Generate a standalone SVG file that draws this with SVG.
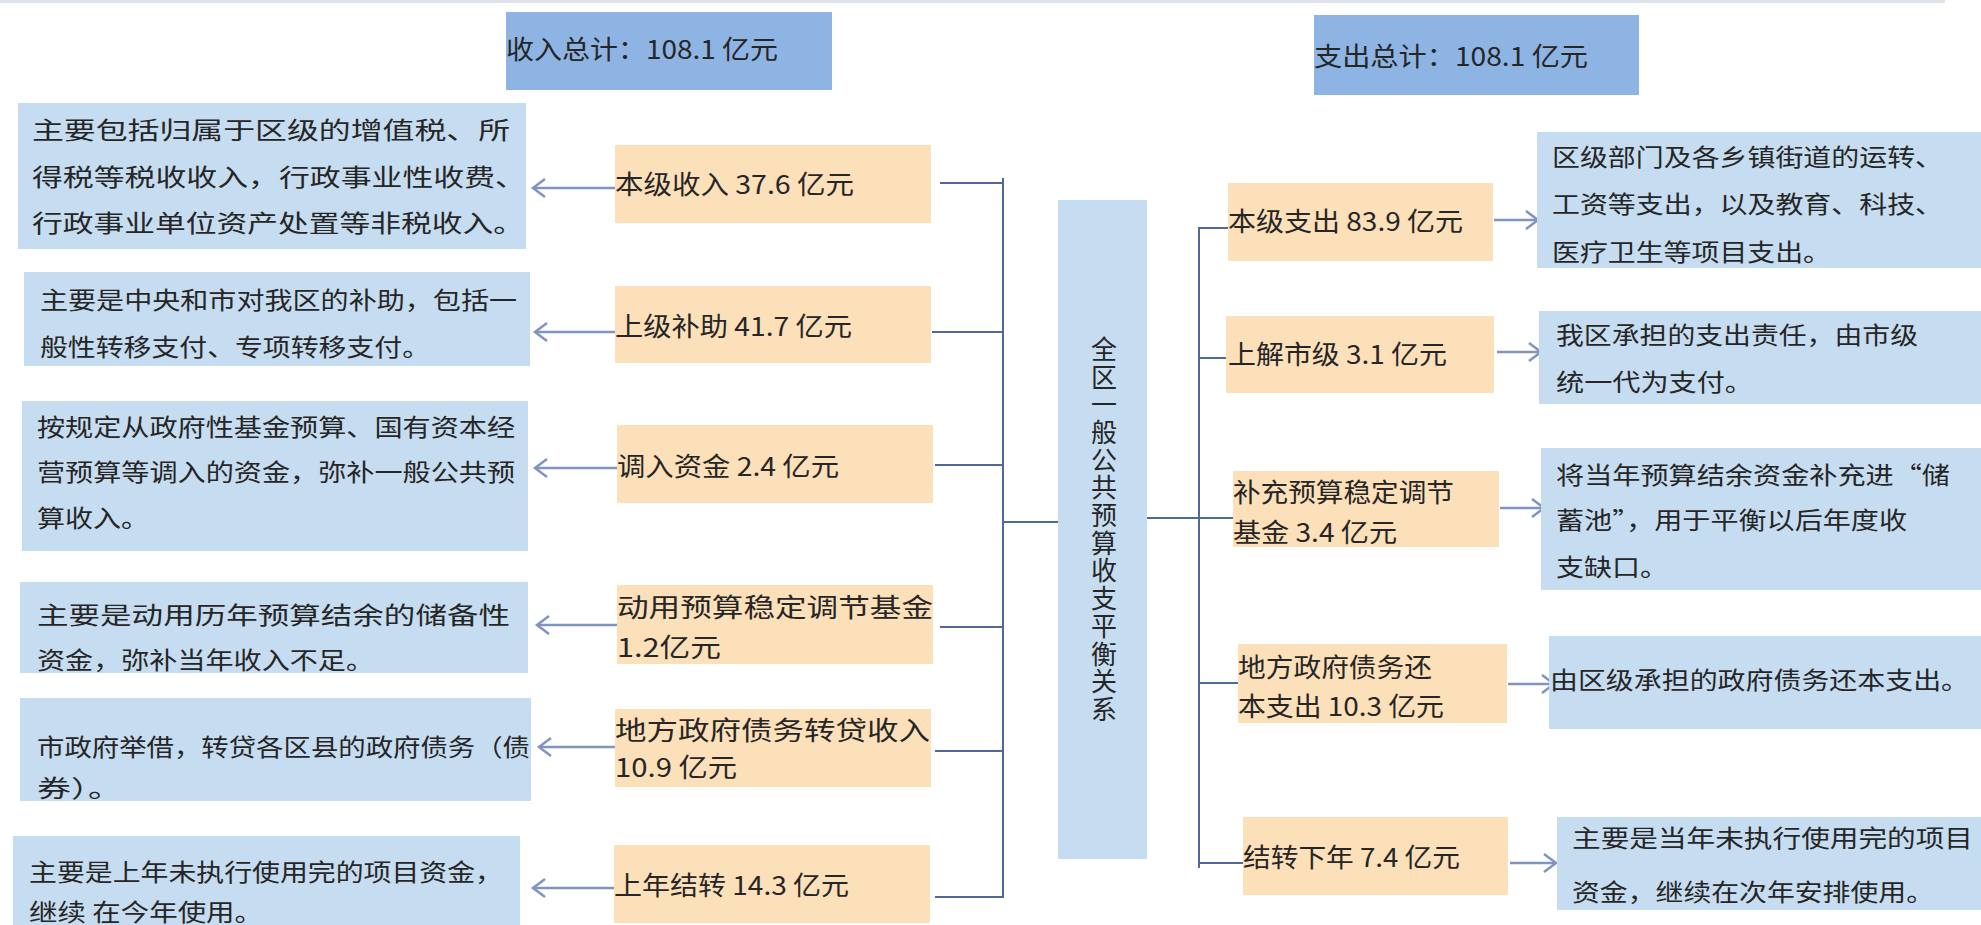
<svg xmlns="http://www.w3.org/2000/svg" width="1981" height="925" viewBox="0 0 1981 925">
<style>
.bg{fill:#ffffff}
.desc{fill:#C6DCF0}
.lab{fill:#FCE0BA}
.tot{fill:#8EB4E3}
.t{font-family:"Noto Sans CJK SC","Noto Sans",sans-serif;fill:#262626}
.d{font-size:24px}
.l{font-size:26px}
.c{font-size:26px;writing-mode:vertical-rl;text-orientation:upright;letter-spacing:1.7px}
.conn{stroke:#53689A;stroke-width:2;fill:none}
.arr{stroke:#8194C0;stroke-width:2.5;fill:none;marker-end:url(#ah)}
</style>
<defs>
<marker id="ah" markerUnits="userSpaceOnUse" markerWidth="20" markerHeight="24" refX="15" refY="10" orient="auto">
<path d="M3,1 L15,10 L3,19" fill="none" stroke="#8194C0" stroke-width="2.5"/>
</marker>
</defs>
<rect class="bg" x="0" y="0" width="1981" height="925"/>
<line x1="0" y1="1.5" x2="1945" y2="1.5" stroke="#DDE2EA" stroke-width="3"/>

<g id="connectors">
<path class="conn" d="M1003,178 V898"/>
<path class="conn" d="M940,183 H1003"/>
<path class="conn" d="M932,332 H1003"/>
<path class="conn" d="M935,465 H1003"/>
<path class="conn" d="M940,627 H1003"/>
<path class="conn" d="M935,751 H1003"/>
<path class="conn" d="M935,897 H1003"/>
<path class="conn" d="M1003,522 H1058"/>
<path class="conn" d="M1199,227 V868"/>
<path class="conn" d="M1199,228 H1228"/>
<path class="conn" d="M1199,358 H1228"/>
<path class="conn" d="M1147,518 H1233"/>
<path class="conn" d="M1199,683 H1238"/>
<path class="conn" d="M1199,863 H1243"/>
<line class="arr" x1="615" y1="188" x2="533" y2="188"/>
<line class="arr" x1="615" y1="332" x2="535" y2="332"/>
<line class="arr" x1="617" y1="468" x2="535" y2="468"/>
<line class="arr" x1="617" y1="625" x2="537" y2="625"/>
<line class="arr" x1="615" y1="747" x2="539" y2="747"/>
<line class="arr" x1="614" y1="888" x2="533" y2="888"/>
<line class="arr" x1="1494" y1="220" x2="1538" y2="220"/>
<line class="arr" x1="1497" y1="352" x2="1541" y2="352"/>
<line class="arr" x1="1500" y1="508" x2="1544" y2="508"/>
<line class="arr" x1="1508" y1="684" x2="1554" y2="684"/>
<line class="arr" x1="1510" y1="863" x2="1556" y2="863"/>
</g>

<g id="total-income">
<rect class="tot" x="506" y="12" width="326" height="78"/>
<text class="t l" x="506" y="59" textLength="272" lengthAdjust="spacingAndGlyphs">收入总计：108.1 亿元</text>
</g>
<g id="total-expense">
<rect class="tot" x="1314" y="15" width="325" height="80"/>
<text class="t l" x="1314" y="66" textLength="274" lengthAdjust="spacingAndGlyphs">支出总计：108.1 亿元</text>
</g>

<g id="center">
<rect class="desc" x="1058" y="200" width="89" height="659"/>
<text class="t c" x="1104" y="336">全区一般公共预算收支平衡关系</text>
</g>

<g id="income-1">
<rect class="lab" x="615" y="145" width="316" height="78"/>
<text class="t l" x="615" y="194" textLength="239" lengthAdjust="spacingAndGlyphs">本级收入 37.6 亿元</text>
</g>
<g id="income-1-desc">
<rect class="desc" x="18" y="103" width="508" height="146"/>
<text class="t d" x="32" y="139" textLength="478" lengthAdjust="spacingAndGlyphs">主要包括归属于区级的增值税、所</text>
<text class="t d" x="32" y="186" textLength="494" lengthAdjust="spacingAndGlyphs">得税等税收收入，行政事业性收费、</text>
<text class="t d" x="32" y="232" textLength="492" lengthAdjust="spacingAndGlyphs">行政事业单位资产处置等非税收入。</text>
</g>

<g id="income-2">
<rect class="lab" x="615" y="286" width="316" height="77"/>
<text class="t l" x="615" y="336" textLength="237" lengthAdjust="spacingAndGlyphs">上级补助 41.7 亿元</text>
</g>
<g id="income-2-desc">
<rect class="desc" x="24" y="272" width="506" height="94"/>
<text class="t d" x="40" y="309" textLength="477" lengthAdjust="spacingAndGlyphs">主要是中央和市对我区的补助，包括一</text>
<text class="t d" x="40" y="356" textLength="390" lengthAdjust="spacingAndGlyphs">般性转移支付、专项转移支付。</text>
</g>

<g id="income-3">
<rect class="lab" x="617" y="425" width="316" height="78"/>
<text class="t l" x="617" y="476" textLength="222" lengthAdjust="spacingAndGlyphs">调入资金 2.4 亿元</text>
</g>
<g id="income-3-desc">
<rect class="desc" x="22" y="401" width="506" height="150"/>
<text class="t d" x="37" y="436" textLength="478" lengthAdjust="spacingAndGlyphs">按规定从政府性基金预算、国有资本经</text>
<text class="t d" x="37" y="481" textLength="478" lengthAdjust="spacingAndGlyphs">营预算等调入的资金，弥补一般公共预</text>
<text class="t d" x="37" y="527" textLength="112" lengthAdjust="spacingAndGlyphs">算收入。</text>
</g>

<g id="income-4">
<rect class="lab" x="617" y="585" width="316" height="79"/>
<text class="t l" x="617" y="617" textLength="316" lengthAdjust="spacingAndGlyphs">动用预算稳定调节基金</text>
<text class="t l" x="617" y="657" textLength="104" lengthAdjust="spacingAndGlyphs">1.2亿元</text>
</g>
<g id="income-4-desc">
<rect class="desc" x="20" y="582" width="508" height="91"/>
<text class="t d" x="37" y="624" textLength="473" lengthAdjust="spacingAndGlyphs">主要是动用历年预算结余的储备性</text>
<text class="t d" x="37" y="669" textLength="337" lengthAdjust="spacingAndGlyphs">资金，弥补当年收入不足。</text>
</g>

<g id="income-5">
<rect class="lab" x="615" y="709" width="316" height="78"/>
<text class="t l" x="615" y="740" textLength="315" lengthAdjust="spacingAndGlyphs">地方政府债务转贷收入</text>
<text class="t l" x="615" y="777" textLength="122" lengthAdjust="spacingAndGlyphs">10.9 亿元</text>
</g>
<g id="income-5-desc">
<rect class="desc" x="20" y="698" width="511" height="103"/>
<text class="t d" x="37" y="756" textLength="493" lengthAdjust="spacingAndGlyphs">市政府举借，转贷各区县的政府债务（债</text>
<text class="t d" x="37" y="797" textLength="85" lengthAdjust="spacingAndGlyphs">券）。</text>
</g>

<g id="income-6">
<rect class="lab" x="614" y="845" width="316" height="78"/>
<text class="t l" x="614" y="895" textLength="235" lengthAdjust="spacingAndGlyphs">上年结转 14.3 亿元</text>
</g>
<g id="income-6-desc">
<rect class="desc" x="13" y="836" width="507" height="89"/>
<text class="t d" x="29" y="881" textLength="474" lengthAdjust="spacingAndGlyphs">主要是上年未执行使用完的项目资金，</text>
<text class="t d" x="29" y="921" textLength="234" lengthAdjust="spacingAndGlyphs">继续 在今年使用。</text>
</g>

<g id="expense-1">
<rect class="lab" x="1228" y="183" width="265" height="78"/>
<text class="t l" x="1228" y="231" textLength="235" lengthAdjust="spacingAndGlyphs">本级支出 83.9 亿元</text>
</g>
<g id="expense-1-desc">
<rect class="desc" x="1537" y="132" width="444" height="136"/>
<text class="t d" x="1552" y="166" textLength="391" lengthAdjust="spacingAndGlyphs">区级部门及各乡镇街道的运转、</text>
<text class="t d" x="1552" y="213" textLength="391" lengthAdjust="spacingAndGlyphs">工资等支出，以及教育、科技、</text>
<text class="t d" x="1552" y="261" textLength="279" lengthAdjust="spacingAndGlyphs">医疗卫生等项目支出。</text>
</g>

<g id="expense-2">
<rect class="lab" x="1226" y="316" width="268" height="77"/>
<text class="t l" x="1228" y="364" textLength="219" lengthAdjust="spacingAndGlyphs">上解市级 3.1 亿元</text>
</g>
<g id="expense-2-desc">
<rect class="desc" x="1539" y="311" width="442" height="93"/>
<text class="t d" x="1556" y="344" textLength="362" lengthAdjust="spacingAndGlyphs">我区承担的支出责任，由市级</text>
<text class="t d" x="1556" y="391" textLength="197" lengthAdjust="spacingAndGlyphs">统一代为支付。</text>
</g>

<g id="expense-3">
<rect class="lab" x="1233" y="471" width="266" height="76"/>
<text class="t l" x="1233" y="502" textLength="221" lengthAdjust="spacingAndGlyphs">补充预算稳定调节</text>
<text class="t l" x="1233" y="542" textLength="164" lengthAdjust="spacingAndGlyphs">基金 3.4 亿元</text>
</g>
<g id="expense-3-desc">
<rect class="desc" x="1541" y="448" width="440" height="142"/>
<text class="t d" x="1556" y="484" textLength="394" lengthAdjust="spacingAndGlyphs">将当年预算结余资金补充进“储</text>
<text class="t d" x="1556" y="529" textLength="351" lengthAdjust="spacingAndGlyphs">蓄池”，用于平衡以后年度收</text>
<text class="t d" x="1556" y="576" textLength="112" lengthAdjust="spacingAndGlyphs">支缺口。</text>
</g>

<g id="expense-4">
<rect class="lab" x="1238" y="644" width="269" height="79"/>
<text class="t l" x="1238" y="677" textLength="194" lengthAdjust="spacingAndGlyphs">地方政府债务还</text>
<text class="t l" x="1238" y="716" textLength="206" lengthAdjust="spacingAndGlyphs">本支出 10.3 亿元</text>
</g>
<g id="expense-4-desc">
<rect class="desc" x="1549" y="636" width="432" height="93"/>
<text class="t d" x="1550" y="689" textLength="419" lengthAdjust="spacingAndGlyphs">由区级承担的政府债务还本支出。</text>
</g>

<g id="expense-5">
<rect class="lab" x="1243" y="817" width="265" height="78"/>
<text class="t l" x="1243" y="867" textLength="217" lengthAdjust="spacingAndGlyphs">结转下年 7.4 亿元</text>
</g>
<g id="expense-5-desc">
<rect class="desc" x="1557" y="817" width="424" height="93"/>
<text class="t d" x="1572" y="847" textLength="401" lengthAdjust="spacingAndGlyphs">主要是当年未执行使用完的项目</text>
<text class="t d" x="1572" y="901" textLength="362" lengthAdjust="spacingAndGlyphs">资金，继续在次年安排使用。</text>
</g>
</svg>
